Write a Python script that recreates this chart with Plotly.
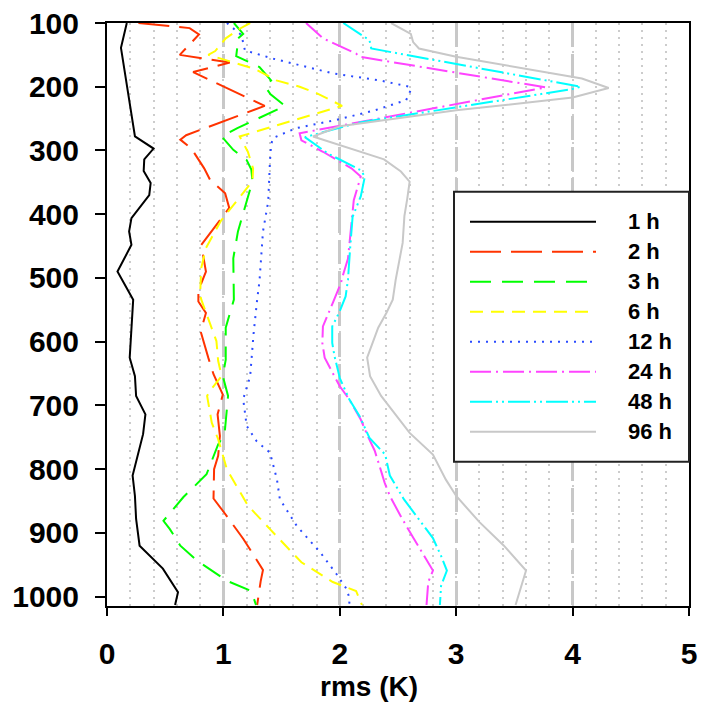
import plotly.graph_objects as go

# ---------------- data (pressure hPa, rms K) ----------------
labels = ["1 h", "2 h", "3 h", "6 h", "12 h", "24 h", "48 h", "96 h"]

p_1h = [100, 139, 278, 297, 314, 332, 351, 370, 406, 427, 448, 490, 534, 625, 654, 685, 714, 745, 810, 842, 878, 920, 956, 993, 1013]
v_1h = [0.17, 0.12, 0.24, 0.40, 0.32, 0.315, 0.375, 0.363, 0.21, 0.19, 0.21, 0.09, 0.225, 0.195, 0.24, 0.25, 0.33, 0.31, 0.22, 0.24, 0.25, 0.28, 0.48, 0.61, 0.585]

p_2h = [100, 108, 118, 150, 162, 177, 230, 276, 283, 297, 328, 346, 367, 390, 448, 474, 490, 520, 537, 555, 584, 625, 651, 683, 714, 748, 779, 800, 846, 864, 909, 958, 976, 1013]
v_2h = [0.27, 0.71, 0.79, 0.625, 1.055, 0.74, 1.355, 0.68, 0.63, 0.725, 0.835, 0.885, 1.015, 1.05, 0.81, 0.835, 0.85, 0.785, 0.785, 0.85, 0.805, 0.87, 0.915, 0.995, 0.95, 0.97, 0.955, 0.92, 0.915, 0.99, 1.17, 1.34, 1.32, 1.29]

p_3h = [100, 117, 127, 137, 152, 169, 190, 200, 212, 230, 265, 278, 299, 315, 330, 349, 364, 427, 469, 534, 578, 628, 654, 685, 745, 761, 808, 844, 881, 894, 920, 943, 975, 991, 1013]
v_3h = [1.09, 1.17, 1.11, 1.12, 1.11, 1.31, 1.41, 1.36, 1.405, 1.53, 1.12, 0.985, 1.085, 1.2, 1.24, 1.25, 1.225, 1.125, 1.085, 1.09, 1.02, 1.02, 0.995, 1.04, 1.01, 0.955, 0.855, 0.655, 0.485, 0.54, 0.63, 0.77, 1.03, 1.24, 1.28]

p_6h = [100, 109, 124, 144, 150, 162, 172, 190, 200, 210, 230, 278, 302, 328, 348, 410, 453, 484, 526, 534, 599, 630, 654, 677, 685, 727, 753, 800, 857, 894, 946, 977, 991, 1013]
v_6h = [1.23, 1.14, 1.02, 0.93, 0.87, 1.085, 1.27, 1.455, 1.655, 1.8, 2.02, 1.14, 1.21, 1.255, 1.25, 0.98, 0.85, 0.81, 0.80, 0.81, 0.94, 0.955, 0.985, 0.885, 0.86, 0.9, 0.955, 1.03, 1.21, 1.4, 1.67, 1.94, 2.14, 2.19]

p_12h = [100, 119, 143, 156, 179, 190, 200, 205, 221, 237, 252, 265, 280, 290, 317, 380, 427, 505, 534, 586, 654, 690, 732, 756, 774, 816, 847, 889, 930, 964, 987, 1003, 1013]
v_12h = [1.03, 1.155, 1.185, 1.43, 1.94, 2.34, 2.6, 2.61, 2.57, 2.3, 1.97, 1.625, 1.43, 1.41, 1.4, 1.385, 1.34, 1.31, 1.29, 1.26, 1.23, 1.17, 1.2, 1.285, 1.4, 1.46, 1.485, 1.63, 1.83, 1.97, 2.055, 2.085, 2.08]

p_24h = [100, 124, 148, 153, 201, 255, 273, 284, 302, 328, 341, 378, 420, 470, 500, 508, 539, 576, 602, 625, 646, 670, 690, 722, 748, 771, 803, 821, 842, 876, 907, 959, 977, 1013]
v_24h = [1.71, 1.855, 2.14, 2.17, 3.77, 2.17, 1.655, 1.67, 1.855, 2.1, 2.18, 2.12, 2.1, 2.07, 2.02, 2.01, 1.94, 1.855, 1.85, 1.87, 1.93, 2.0, 2.08, 2.18, 2.24, 2.3, 2.355, 2.385, 2.43, 2.53, 2.63, 2.8, 2.76, 2.745]

p_48h = [100, 117, 127, 140, 200, 204, 256, 279, 305, 331, 341, 372, 404, 450, 503, 529, 552, 576, 602, 623, 657, 690, 717, 751, 777, 810, 847, 908, 936, 959, 983, 1013]
v_48h = [2.03, 2.17, 2.255, 2.27, 4.07, 3.99, 2.17, 1.70, 1.9, 2.18, 2.215, 2.18, 2.11, 2.09, 2.07, 2.05, 2.0, 1.935, 1.935, 1.955, 2.0, 2.08, 2.17, 2.255, 2.39, 2.43, 2.55, 2.8, 2.87, 2.92, 2.87, 2.86]

p_96h = [100, 117, 130, 140, 153, 187, 202, 217, 237, 257, 262, 278, 314, 333, 349, 375, 403, 445, 503, 534, 555, 578, 625, 654, 685, 743, 777, 816, 842, 883, 920, 959, 1013]
v_96h = [2.44, 2.61, 2.63, 2.68, 3.0, 4.08, 4.31, 4.0, 3.0, 2.17, 2.0, 1.77, 2.38, 2.525, 2.6, 2.58, 2.555, 2.54, 2.48, 2.455, 2.4, 2.33, 2.235, 2.26, 2.355, 2.6, 2.8, 2.91, 3.0, 3.2, 3.41, 3.6, 3.51]

x_ticks = [0, 1, 2, 3, 4, 5]
y_ticks = [100, 200, 300, 400, 500, 600, 700, 800, 900, 1000]
x_title = "rms (K)"

series_p = [p_1h, p_2h, p_3h, p_6h, p_12h, p_24h, p_48h, p_96h]
series_v = [v_1h, v_2h, v_3h, v_6h, v_12h, v_24h, v_48h, v_96h]

# ---------------- styles ----------------
colors = ["#000000", "#FF3300", "#00FF00", "#FFFF00", "#2B4BFF", "#FF44FF", "#00FFFF", "#C8C8C8"]
dashes = ["solid", "31px,10px", "21px,11px", "13px,8px", "2px,6px",
          "21px,5px,2px,5px", "22px,4px,2px,4px,2px,4px", "solid"]

FONT = "Liberation Sans, Arial, sans-serif"

fig = go.Figure()
for lab, pp, vv, c, d in zip(labels, series_p, series_v, colors, dashes):
    fig.add_trace(go.Scatter(x=vv, y=pp, mode="lines", name=lab,
                             line=dict(color=c, width=2, dash=d),
                             showlegend=False))

# ---------------- manual legend ----------------
W = 702 - 107 - 13
H = 702 - 23 - 96
def px(x):
    return (x - 107) / W
def py(y):
    return (606 - y) / H

shapes = [dict(type="rect", xref="paper", yref="paper",
               x0=px(454), x1=1.0, y0=py(461.7), y1=py(191.7),
               fillcolor="white", line=dict(color="#222222", width=2), layer="above")]
annotations = []
for i, (lab, c, d) in enumerate(zip(labels, colors, dashes)):
    yy = py(221.7 + 30 * i)
    shapes.append(dict(type="line", xref="paper", yref="paper",
                       x0=px(470), x1=px(596), y0=yy, y1=yy,
                       line=dict(color=c, width=2, dash=d), layer="above"))
    annotations.append(dict(xref="paper", yref="paper", x=px(626), y=yy,
                            xanchor="left", yanchor="middle", text=lab,
                            showarrow=False,
                            font=dict(family=FONT, size=22, color="black", weight="bold")))

# x-axis title (offset left of centre, as in the original)
annotations.append(dict(xref="paper", yref="paper", x=px(369), y=py(686),
                        xanchor="center", yanchor="middle", text=x_title,
                        showarrow=False,
                        font=dict(family=FONT, size=28, color="black", weight="bold")))

fig.update_layout(
    width=702, height=702,
    margin=dict(l=107, r=13, t=23, b=96),
    paper_bgcolor="white", plot_bgcolor="white",
    shapes=shapes, annotations=annotations,
    showlegend=False,
)

fig.update_xaxes(
    range=[0, 5], tickvals=x_ticks, ticktext=[str(t) for t in x_ticks],
    automargin=False,
    showline=True, linecolor="black", linewidth=2, mirror=True,
    ticks="outside", ticklen=8, tickwidth=2, tickcolor="black",
    ticklabelstandoff=12,
    tickfont=dict(family=FONT, size=30, color="black", weight="bold"),
    showgrid=True, gridcolor="#C8C8C8", gridwidth=2.5, griddash="24px,7px",
    minor=dict(dtick=0.2, showgrid=True, gridcolor="#CCCCCC", gridwidth=1.5,
               griddash="2px,5px", ticks=""),
    zeroline=False,
)
fig.update_yaxes(
    range=[1014.6, 100], tickvals=y_ticks, ticktext=[str(t) for t in y_ticks],
    automargin=False,
    showline=True, linecolor="black", linewidth=2, mirror=True,
    ticks="outside", ticklen=10, tickwidth=2, tickcolor="black",
    ticklabelstandoff=10,
    tickfont=dict(family=FONT, size=30, color="black", weight="bold"),
    showgrid=False, zeroline=False,
)

fig.write_html("out.html")
